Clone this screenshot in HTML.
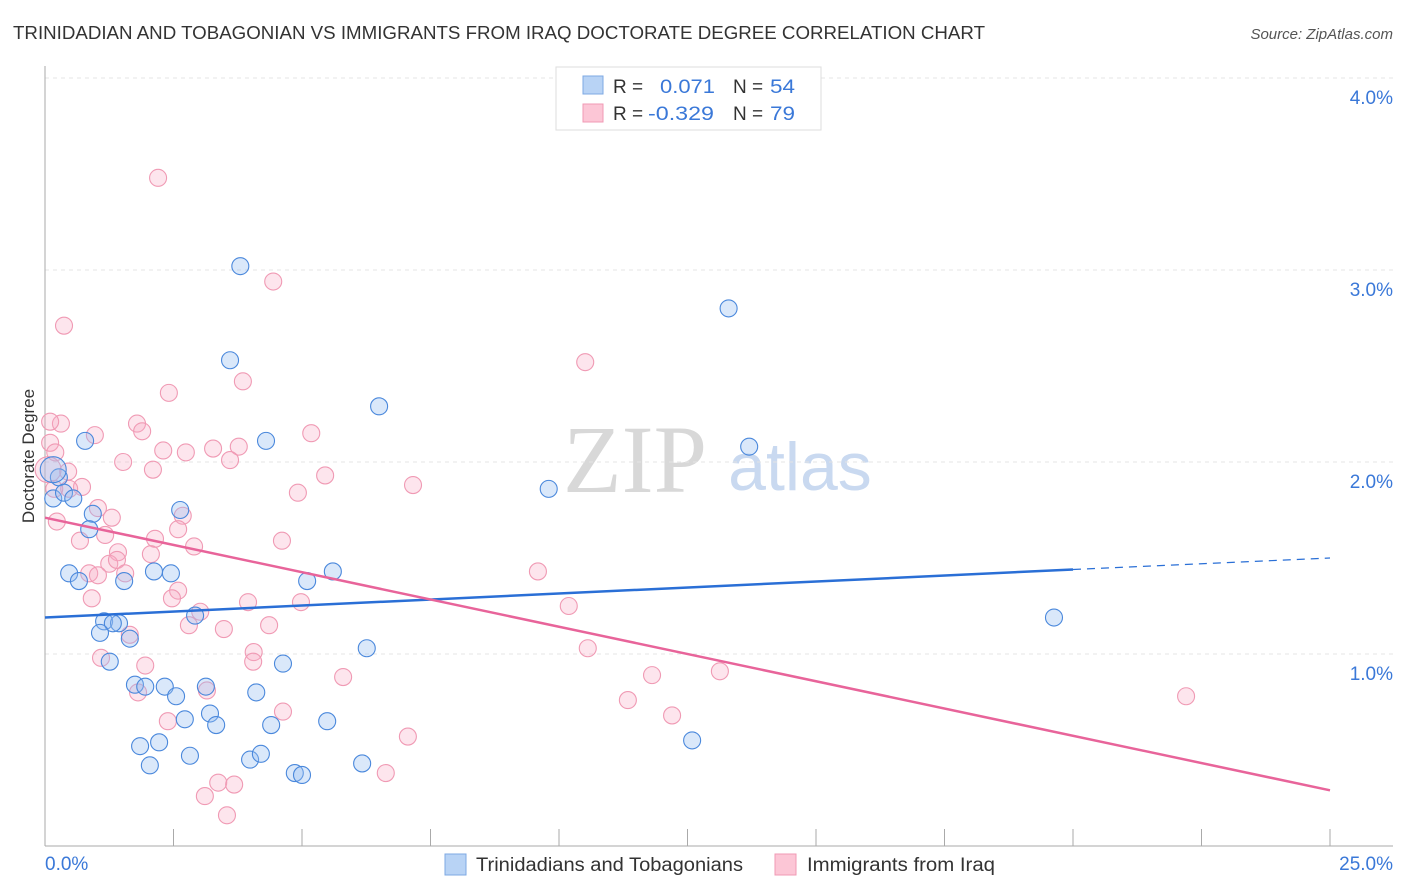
<!DOCTYPE html>
<html><head><meta charset="utf-8"><style>
body{margin:0;background:#fff;font-family:"Liberation Sans",sans-serif;}
svg{display:block}
</style></head><body>
<svg id="chart" width="1406" height="892">
<text x="13" y="39" font-size="18" fill="#333" textLength="972" lengthAdjust="spacingAndGlyphs">TRINIDADIAN AND TOBAGONIAN VS IMMIGRANTS FROM IRAQ DOCTORATE DEGREE CORRELATION CHART</text>
<text x="1393" y="39" font-size="15" fill="#555" font-style="italic" text-anchor="end">Source: ZipAtlas.com</text>
<text x="34" y="456" font-size="17" fill="#333" text-anchor="middle" transform="rotate(-90 34 456)">Doctorate Degree</text>
<text x="635" y="492" font-size="96" fill="#d8d8d8" font-family="Liberation Serif,serif" text-anchor="middle">ZIP</text>
<text x="800" y="490" font-size="68" fill="#c9d9f0" text-anchor="middle">atlas</text>
<g id="grid"></g><g id="axes"></g><g id="pts"></g><g id="lines"></g>
<g>
<rect x="556" y="67" width="265" height="63" fill="#fff" stroke="#ddd"/>
<rect x="583" y="76" width="20" height="18" fill="#b8d3f5" stroke="#7ea8e3"/>
<rect x="583" y="104" width="20" height="18" fill="#fcc6d6" stroke="#f09ab4"/>
<text x="613" y="93" font-size="19" fill="#333">R = </text><text x="660" y="93" font-size="19" fill="#3a78d8" textLength="55" lengthAdjust="spacingAndGlyphs">0.071</text>
<text x="733" y="93" font-size="19" fill="#333">N = </text><text x="770" y="93" font-size="19" fill="#3a78d8" textLength="25" lengthAdjust="spacingAndGlyphs">54</text>
<text x="613" y="120" font-size="19" fill="#333">R = </text><text x="648" y="120" font-size="19" fill="#3a78d8" textLength="66" lengthAdjust="spacingAndGlyphs">-0.329</text>
<text x="733" y="120" font-size="19" fill="#333">N = </text><text x="770" y="120" font-size="19" fill="#3a78d8" textLength="25" lengthAdjust="spacingAndGlyphs">79</text>
</g>
<g>
<rect x="445" y="854" width="21" height="21" fill="#b8d3f5" stroke="#7ea8e3"/>
<text x="476" y="871" font-size="19" fill="#333" textLength="267" lengthAdjust="spacingAndGlyphs">Trinidadians and Tobagonians</text>
<rect x="775" y="854" width="21" height="21" fill="#fcc6d6" stroke="#f09ab4"/>
<text x="807" y="871" font-size="19" fill="#333" textLength="188" lengthAdjust="spacingAndGlyphs">Immigrants from Iraq</text>
</g>
</svg>
<script>
const xTicks=[0,2.5,5,7.5,10,12.5,15,17.5,20,22.5,25];
const yTicks=[1,2,3,4];
const blueX=[3.8,3.6,13.3,6.5,4.3,0.78,13.7,9.8,0.27,0.16,0.37,0.55,0.93,0.86,2.63,0.47,0.66,1.54,2.12,2.45,5.1,5.6,2.92,1.15,1.44,1.32,1.07,1.65,6.26,4.63,1.26,1.75,1.95,2.33,2.55,3.13,4.11,2.72,3.21,3.33,4.4,5.49,1.85,2.22,2.82,2.04,3.99,4.2,4.86,5.0,6.17,12.59,19.63,0.16];
const blueY=[3.02,2.53,2.8,2.29,2.11,2.11,2.08,1.86,1.92,1.81,1.84,1.81,1.73,1.65,1.75,1.42,1.38,1.38,1.43,1.42,1.38,1.43,1.2,1.17,1.16,1.16,1.11,1.08,1.03,0.95,0.96,0.84,0.83,0.83,0.78,0.83,0.80,0.66,0.69,0.63,0.63,0.65,0.52,0.54,0.47,0.42,0.45,0.48,0.38,0.37,0.43,0.55,1.19,1.96];
const pinkX=[2.2,0.37,4.44,10.51,3.85,2.41,0.31,0.1,1.79,1.89,0.97,5.18,0.1,2.3,2.74,3.27,3.77,0.2,1.52,3.6,2.1,0.45,5.45,4.92,7.16,0.72,0.47,0.18,0.23,1.03,1.3,2.68,2.59,0.68,1.17,4.61,2.14,2.9,1.42,2.06,1.25,1.4,0.86,1.56,2.59,9.59,10.19,2.47,4.98,3.95,0.91,3.02,2.8,3.48,4.36,1.65,10.56,1.09,4.06,4.05,1.95,5.8,11.81,13.13,3.15,1.81,2.39,11.34,12.2,22.2,4.63,7.06,3.37,3.68,3.11,6.63,3.54,1.03,0.06];
const pinkY=[3.48,2.71,2.94,2.52,2.42,2.36,2.2,2.21,2.2,2.16,2.14,2.15,2.1,2.06,2.05,2.07,2.08,2.05,2.0,2.01,1.96,1.95,1.93,1.84,1.88,1.87,1.86,1.86,1.69,1.76,1.71,1.72,1.65,1.59,1.62,1.59,1.6,1.56,1.53,1.52,1.47,1.49,1.42,1.42,1.33,1.43,1.25,1.29,1.27,1.27,1.29,1.22,1.15,1.13,1.15,1.1,1.03,0.98,1.01,0.96,0.94,0.88,0.89,0.91,0.81,0.8,0.65,0.76,0.68,0.78,0.7,0.57,0.33,0.32,0.26,0.38,0.16,1.41,1.96];
const blueTrend=[1.19,1.44,1.5];const pinkTrend=[1.71,0.29];
const X=v=>45+v/25*1285, Y=v=>846-v*192;
const NS="http://www.w3.org/2000/svg";
function mk(t,a,p){const e=document.createElementNS(NS,t);for(const k in a)e.setAttribute(k,a[k]);p.appendChild(e);return e;}
const g=document.getElementById('grid'),ax=document.getElementById('axes'),P=document.getElementById('pts'),L=document.getElementById('lines');
yTicks.forEach(t=>{const l=mk('line',{x1:45,x2:1393,y1:Y(t),y2:Y(t),stroke:'#e4e4e4','stroke-dasharray':'4,4'},g);


const tx=mk('text',{x:1393,y:Y(t)+26,'font-size':19,fill:'#3a78d8','text-anchor':'end'},ax);tx.textContent=t.toFixed(1)+'%';

});
const a1=mk('line',{x1:45,x2:45,y1:66,y2:846,stroke:'#aaa'},ax);


const a2=mk('line',{x1:45,x2:1393,y1:846,y2:846,stroke:'#aaa'},ax);


xTicks.forEach(t=>{if(t>0){const l=mk('line',{x1:X(t),x2:X(t),y1:829,y2:846,stroke:'#aaa'},ax);

}});
[[0,'start',45],[25,'end',1393]].forEach(([v,an,x])=>{const tx=mk('text',{x:x,y:870,'font-size':19,fill:'#3a78d8','text-anchor':an},ax);tx.textContent=v.toFixed(1)+'%';

});
pinkX.forEach((v,i)=>{const c=mk('circle',{cx:X(v),cy:Y(pinkY[i]),r:(i==pinkX.length-1?13:8.5),fill:'rgba(248,170,195,0.3)',stroke:'#f09ab4','stroke-width':1.1},P);

});
blueX.forEach((v,i)=>{const c=mk('circle',{cx:X(v),cy:Y(blueY[i]),r:(i==blueX.length-1?13:8.5),fill:'rgba(150,190,240,0.35)',stroke:'#4a88dc','stroke-width':1.1},P);

});
const b1=mk('line',{x1:X(0),y1:Y(blueTrend[0]),x2:X(20),y2:Y(blueTrend[1]),stroke:'#2a6fd6','stroke-width':2.5},L);


const b2=mk('line',{x1:X(20),y1:Y(blueTrend[1]),x2:X(25),y2:Y(blueTrend[2]),stroke:'#2a6fd6','stroke-width':1.2,'stroke-dasharray':'8,6'},L);


const p1=mk('line',{x1:X(0),y1:Y(pinkTrend[0]),x2:X(25),y2:Y(pinkTrend[1]),stroke:'#e8649a','stroke-width':2.5},L);


</script>
</body></html>
